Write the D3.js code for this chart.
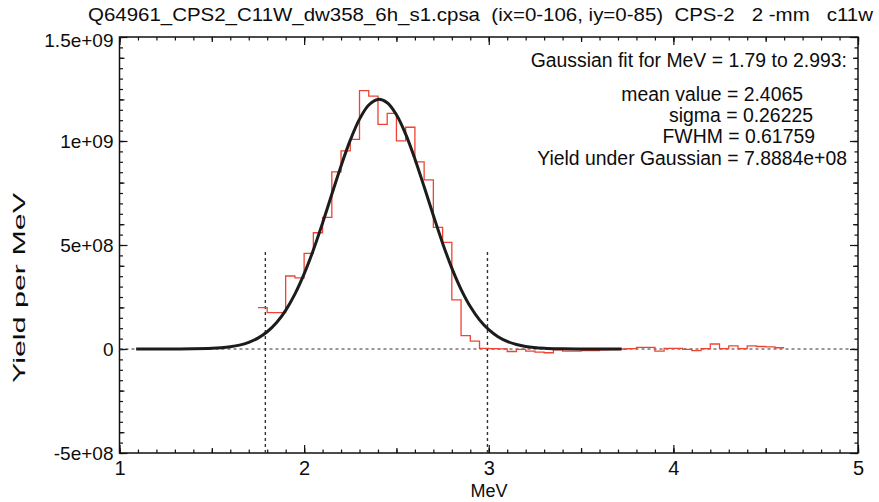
<!DOCTYPE html>
<html>
<head>
<meta charset="utf-8">
<script src="https://cdn.jsdelivr.net/npm/d3@7"></script>
<style>
    body { margin: 0; background: #fff; }
    text { font-family: "Liberation Sans", Arial, sans-serif; fill: #0d0d0d; }
    .axis path { stroke: none; }
    .axis line { stroke: #111; stroke-width: 1.2; }
</style>
</head>
<body>
<div id="graphic"></div>
<script>
// histogram (left bin edges, last entry is the closing edge)
var binEdges = [1.75, 1.80, 1.85, 1.90, 1.95, 2.00, 2.05, 2.10, 2.15, 2.20, 2.25, 2.30, 2.35, 2.40, 2.45,
    2.50, 2.55, 2.60, 2.65, 2.70, 2.75, 2.80, 2.85, 2.90, 2.95, 3.00, 3.05, 3.10, 3.15, 3.20, 3.25, 3.30,
    3.35, 3.40, 3.45, 3.50, 3.55, 3.60, 3.65, 3.70, 3.75, 3.80, 3.85, 3.90, 3.95, 4.00, 4.05, 4.10, 4.15,
    4.20, 4.25, 4.30, 4.35, 4.40, 4.45, 4.50, 4.55, 4.60];
var binYield = [1.99e8, 1.75e8, 1.75e8, 3.51e8, 3.42e8, 4.6e8, 5.59e8, 6.33e8, 8.52e8, 9.53e8, 1.008e9,
    1.242e9, 1.216e9, 1.08e9, 1.133e9, 1.001e9, 1.066e9, 9.0e8, 8.13e8, 5.85e8, 5.13e8, 2.36e8, 6.4e7,
    3.8e7, 3e6, 2e6, 1e6, -1.2e7, -2e6, -1e7, -1.5e7, -1.8e7, -4e6, -1e7, -1e7, -8e6, -8e6, -4e6, -3e6,
    0, 2e6, 8e6, 8e6, -1e7, 3e6, 3e6, -2e6, -8e6, 2e6, 2.4e7, 2e6, 1.5e7, 2e6, 1.5e7, 1.2e7, 1e7, 6e6];

// gaussian fit curve
var fitMeV = [1.09, 1.2, 1.3, 1.4, 1.5, 1.55, 1.6, 1.65, 1.7, 1.75, 1.8, 1.85, 1.9, 1.95, 2.0, 2.05, 2.1,
    2.15, 2.2, 2.25, 2.3, 2.35, 2.4, 2.45, 2.5, 2.55, 2.6, 2.65, 2.7, 2.75, 2.8, 2.85, 2.9, 2.95, 3.0,
    3.05, 3.1, 3.15, 3.2, 3.3, 3.4, 3.5, 3.6, 3.72];
var fitYield = [0, 3e4, 1.6e5, 7.6e5, 3.05e6, 5.8e6, 1.06e7, 1.87e7, 3.19e7, 5.23e7, 8.28e7, 1.26e8,
    1.86e8, 2.64e8, 3.61e8, 4.76e8, 6.06e8, 7.44e8, 8.80e8, 1.004e9, 1.105e9, 1.173e9, 1.2e9, 1.184e9,
    1.126e9, 1.033e9, 9.14e8, 7.80e8, 6.42e8, 5.09e8, 3.89e8, 2.87e8, 2.04e8, 1.40e8, 9.27e7, 5.91e7,
    3.64e7, 2.16e7, 1.23e7, 3.6e6, 9.2e5, 2e5, 4e4, 0];

var fitRange = [1.79, 2.993];
var fitMarkerTop = 4.8e8;

var xTicks = [1, 2, 3, 4, 5];
var yTicks = [-5e8, 0, 5e8, 1e9, 1.5e9];
var yTickLabels = ['-5e+08', '0', '5e+08', '1e+09', '1.5e+09'];

var titleText = 'Q64961_CPS2_C11W_dw358_6h_s1.cpsa  (ix=0-106, iy=0-85)  CPS-2   2 -mm   c11w';
var fitLines = [
    'Gaussian fit for MeV = 1.79 to 2.993:',
    'mean value = 2.4065',
    'sigma = 0.26225',
    'FWHM = 0.61759',
    'Yield under Gaussian = 7.8884e+08'
];

/*
 * Render the graphic.
 */
var renderGraphic = function() {
    var width = 879,
        height = 502;

    var frame = { left: 119.5, right: 858, top: 37, bottom: 453 };

    var svg = d3.select('#graphic').append('svg')
        .attr('width', width)
        .attr('height', height);

    var x = d3.scaleLinear().domain([1, 5]).range([frame.left, frame.right]);
    var y = d3.scaleLinear().domain([-5e8, 1.5e9]).range([frame.bottom, frame.top]);

    // minor / medium ticks on all four sides
    var xMinor = x.ticks(40),
        xMid = x.ticks(8),
        yMinor = y.ticks(40),
        yMid = y.ticks(8);

    var addAxis = function(axisFn, scale, values, size, tx, ty, fmt, pad) {
        var g = svg.append('g')
            .attr('class', 'axis')
            .attr('transform', 'translate(' + tx + ',' + ty + ')')
            .call(axisFn(scale).tickValues(values).tickSize(-size).tickPadding(pad || 0)
                .tickFormat(fmt || ''));
        return g;
    };

    [[d3.axisBottom, 0, frame.bottom], [d3.axisTop, 0, frame.top]].forEach(function(a) {
        addAxis(a[0], x, xMinor, 3.5, a[1], a[2]);
        addAxis(a[0], x, xMid, 5, a[1], a[2]);
    });
    [[d3.axisLeft, frame.left, 0], [d3.axisRight, frame.right, 0]].forEach(function(a) {
        addAxis(a[0], y, yMinor, 3.5, a[1], a[2]);
        addAxis(a[0], y, yMid, 5, a[1], a[2]);
    });

    var xAxis = addAxis(d3.axisBottom, x, xTicks, 8, 0, frame.bottom, d3.format('d'), 8);
    addAxis(d3.axisTop, x, xTicks, 8, 0, frame.top);
    var yAxis = addAxis(d3.axisLeft, y, yTicks, 8, frame.left, 0,
        function(d, i) { return yTickLabels[i]; }, 6);
    addAxis(d3.axisRight, y, yTicks, 8, frame.right, 0);

    xAxis.selectAll('text').style('font-size', '20px').attr('fill', '#0d0d0d');
    yAxis.selectAll('text').style('font-size', '19px').attr('fill', '#0d0d0d')
        .attr('dy', function(d, i) { return i == yTicks.length - 1 ? '0.5em' : '0.34em'; });

    // frame
    svg.append('rect')
        .attr('x', frame.left)
        .attr('y', frame.top)
        .attr('width', frame.right - frame.left)
        .attr('height', frame.bottom - frame.top)
        .attr('fill', 'none')
        .attr('stroke', '#111')
        .attr('stroke-width', 1.5);

    // zero line and fit range markers
    svg.append('line')
        .attr('x1', x(1)).attr('x2', x(5))
        .attr('y1', y(0)).attr('y2', y(0))
        .attr('stroke', '#333')
        .attr('stroke-width', 1.2)
        .attr('stroke-dasharray', '3,3');

    svg.selectAll('.range-line')
        .data(fitRange)
        .enter().append('line')
        .attr('class', 'range-line')
        .attr('x1', function(d) { return x(d); })
        .attr('x2', function(d) { return x(d); })
        .attr('y1', y(-5e8))
        .attr('y2', y(fitMarkerTop))
        .attr('stroke', '#333')
        .attr('stroke-width', 1.4)
        .attr('stroke-dasharray', '3,3');

    // histogram as steps
    var steps = binYield.map(function(v, i) { return [binEdges[i], v]; });
    steps.push([binEdges[binEdges.length - 1], binYield[binYield.length - 1]]);

    var stepLine = d3.line()
        .x(function(d) { return x(d[0]); })
        .y(function(d) { return y(d[1]); })
        .curve(d3.curveStepAfter);

    svg.append('path')
        .datum(steps)
        .attr('d', stepLine)
        .attr('fill', 'none')
        .attr('stroke', '#ee4433')
        .attr('stroke-width', 1.3);

    // fit curve
    var fitLine = d3.line()
        .x(function(d, i) { return x(fitMeV[i]); })
        .y(function(d) { return y(d); })
        .curve(d3.curveCatmullRom);

    svg.append('path')
        .datum(fitYield)
        .attr('d', fitLine)
        .attr('fill', 'none')
        .attr('stroke', '#1c1c1c')
        .attr('stroke-width', 3);

    // title & labels
    svg.append('text')
        .attr('x', 88)
        .attr('y', 21)
        .attr('textLength', 785)
        .attr('lengthAdjust', 'spacingAndGlyphs')
        .style('font-size', '19px')
        .style('white-space', 'pre')
        .text(titleText);

    svg.append('text')
        .attr('x', 489)
        .attr('y', 497)
        .attr('text-anchor', 'middle')
        .style('font-size', '18px')
        .text('MeV');

    svg.append('text')
        .attr('transform', 'translate(25,288) rotate(-90)')
        .attr('text-anchor', 'middle')
        .attr('textLength', 190)
        .attr('lengthAdjust', 'spacingAndGlyphs')
        .style('font-size', '17px')
        .text('Yield per MeV');

    var fitPos = [[847, 67], [803, 101], [813, 122], [815, 143], [847, 165]];
    svg.selectAll('.fit-text')
        .data(fitLines)
        .enter().append('text')
        .attr('class', 'fit-text')
        .attr('x', function(d, i) { return fitPos[i][0]; })
        .attr('y', function(d, i) { return fitPos[i][1]; })
        .attr('text-anchor', 'end')
        .style('font-size', '19.4px')
        .text(function(d) { return d; });
}

window.onload = renderGraphic;
</script>
</body>
</html>
